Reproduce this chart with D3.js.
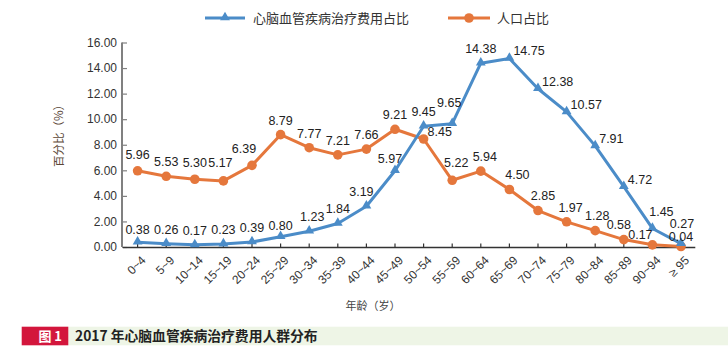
<!DOCTYPE html>
<html>
<head>
<meta charset="utf-8">
<script src="https://cdn.jsdelivr.net/npm/d3@7"></script>
<style>
  html, body { margin: 0; padding: 0; background: #fff; }
  svg { display: block; }
  text { font-family: "Liberation Sans", Arial, "Noto Sans CJK SC", sans-serif; }
  .cjk { font-family: "Noto Sans CJK SC", "Liberation Sans", sans-serif; }
</style>
</head>
<body>
<svg id="chart" width="728" height="356"></svg>
<script>
// ---------- data ----------
const categories = ["0~4","5~9","10~14","15~19","20~24","25~29","30~34","35~39","40~44","45~49",
                    "50~54","55~59","60~64","65~69","70~74","75~79","80~84","85~89","90~94","≥ 95"];
const costShare = [0.38,0.26,0.17,0.23,0.39,0.80,1.23,1.84,3.19,5.97,
                   9.45,9.65,14.38,14.75,12.38,10.57,7.91,4.72,1.45,0.27];
const popShare  = [5.96,5.53,5.30,5.17,6.39,8.79,7.77,7.21,7.66,9.21,
                   8.45,5.22,5.94,4.50,2.85,1.97,1.28,0.58,0.17,0.04];
const yTicks = [0,2,4,6,8,10,12,14,16];
const seriesNames = ["心脑血管疾病治疗费用占比","人口占比"];
const yTitle = "百分比（%）";
const xTitle = "年龄（岁）";
const figLabel = "图 1";
const figCaption = "2017 年心脑血管疾病治疗费用人群分布";

// label placement styles (which labels sit to the right, and nudges [dx, dy] from default)
const blueRight = new Set(["65~69","70~74","75~79","80~84","85~89"]);
const orangeRight = new Set(["50~54"]);
const blueNudge = {"0~4": [0, 2], "25~29": [0, 3], "45~49": [-5, 2], "40~44": [-5, 0],
                   "55~59": [-3, -7], "90~94": [9, -2], "30~34": [3, 0], "≥ 95": [1, -6]};
const orangeNudge = {"0~4": [0, -2], "10~14": [0, -2], "15~19": [-3, -4], "20~24": [-8, -2],
                     "55~59": [4, -3], "60~64": [4, 0], "65~69": [8, 0], "70~74": [5, -1],
                     "75~79": [4, 0], "80~84": [2, -1], "85~89": [-5, -1], "90~94": [-12, 4], "≥ 95": [0, 5]};

// ---------- setup ----------
const BLUE = "#4b8cc8", ORANGE = "#e5773c", TXT = "#333";
const svg = d3.select("#chart");

const x = d3.scaleBand().domain(categories).range([123.3, 695.3]);
const cx = c => x(c) + x.bandwidth() / 2;
const y = d3.scaleLinear().domain([0, 16]).range([247, 42.5]);

// ---------- axes ----------
const yAxis = d3.axisRight(y).tickValues(yTicks).tickSize(5).tickFormat("");
const gy = svg.append("g").attr("transform", "translate(122,0)").call(yAxis);
gy.select(".domain").attr("stroke", "#808080").attr("stroke-width", 2).attr("d", `M0,${y(16)}V${y(0)}`);
gy.selectAll(".tick line").attr("stroke", "#808080").attr("stroke-width", 1.2);

svg.append("g").selectAll("text").data(yTicks).join("text")
  .attr("x", 117).attr("y", d => y(d)).attr("dy", "0.35em")
  .attr("text-anchor", "end").attr("font-size", 12).attr("fill", TXT)
  .text(d => d.toFixed(2));

const xAxis = d3.axisTop(x).tickSize(4).tickFormat("");
const gx = svg.append("g").attr("transform", `translate(0,${y(0) + 0.5})`).call(xAxis);
gx.select(".domain").attr("stroke", "#333").attr("stroke-width", 1.3).attr("d", "M123,0H695.3");
gx.selectAll(".tick line").attr("stroke", "#333").attr("stroke-width", 1.2);

svg.append("g").selectAll("text").data(categories).join("text")
  .attr("transform", c => `translate(${cx(c) + 3},${y(0) + 8}) rotate(-45)`)
  .attr("text-anchor", "end").attr("dy", "0.7em")
  .attr("font-size", 12).attr("fill", TXT)
  .text(c => c);

// titles
svg.append("text").attr("class", "cjk")
  .attr("transform", "translate(63,133) rotate(-90)")
  .attr("text-anchor", "middle").attr("font-size", 11.5).attr("fill", "#5a4636")
  .text(yTitle);
svg.append("text").attr("class", "cjk")
  .attr("x", 373).attr("y", 310).attr("text-anchor", "middle")
  .attr("font-size", 11).attr("fill", "#444").text(xTitle);

// ---------- lines ----------
const lineGen = d3.line().x((d, i) => cx(categories[i])).y(d => y(d));
svg.append("path").datum(popShare).attr("d", lineGen)
  .attr("fill", "none").attr("stroke", ORANGE).attr("stroke-width", 3).attr("stroke-linejoin", "round");
svg.append("path").datum(costShare).attr("d", lineGen)
  .attr("fill", "none").attr("stroke", BLUE).attr("stroke-width", 3).attr("stroke-linejoin", "round");

svg.append("g").selectAll("circle").data(popShare).join("circle")
  .attr("cx", (d, i) => cx(categories[i])).attr("cy", d => y(d)).attr("r", 4.8).attr("fill", ORANGE);

const tri = d3.symbol().type(d3.symbolTriangle).size(42);
svg.append("g").selectAll("path").data(costShare).join("path")
  .attr("d", tri).attr("fill", BLUE)
  .attr("transform", (d, i) => `translate(${cx(categories[i])},${y(d) - 0.5})`);

// ---------- data labels ----------
function labels(values, rightSet, nudge) {
  svg.append("g").selectAll("text").data(values).join("text")
    .attr("font-size", 12.5).attr("fill", "#222")
    .each(function (d, i) {
      const c = categories[i];
      const px = cx(c), py = y(d);
      const [ndx, ndy] = nudge[c] || [0, 0];
      const t = d3.select(this);
      if (rightSet.has(c)) {
        t.attr("x", px + 4 + ndx).attr("y", py - 3 + ndy).attr("text-anchor", "start");
      } else {
        t.attr("x", px + ndx).attr("y", py - 10 + ndy).attr("text-anchor", "middle");
      }
    })
    .text(d => d.toFixed(2));
}
labels(popShare, orangeRight, orangeNudge);
labels(costShare, blueRight, blueNudge);

// ---------- legend ----------
const legend = [
  {name: seriesNames[0], color: BLUE, x0: 205, x1: 245, tx: 253, mark: "tri"},
  {name: seriesNames[1], color: ORANGE, x0: 448, x1: 490, tx: 497, mark: "circ"}
];
const lg = svg.append("g");
legend.forEach(l => {
  lg.append("line").attr("x1", l.x0).attr("x2", l.x1).attr("y1", 18).attr("y2", 18)
    .attr("stroke", l.color).attr("stroke-width", 3);
  if (l.mark === "tri") {
    lg.append("path").attr("d", tri).attr("fill", l.color)
      .attr("transform", `translate(${(l.x0 + l.x1) / 2},17.5)`);
  } else {
    lg.append("circle").attr("cx", (l.x0 + l.x1) / 2).attr("cy", 18).attr("r", 4.8).attr("fill", l.color);
  }
  lg.append("text").attr("class", "cjk").attr("x", l.tx).attr("y", 18).attr("dy", "0.36em")
    .attr("font-size", 13).attr("fill", TXT).text(l.name);
});

// ---------- caption bar ----------
svg.append("rect").attr("x", 68.3).attr("y", 326.7).attr("width", 659.7).attr("height", 18.6).attr("fill", "#eef5e6");
svg.append("rect").attr("x", 21.7).attr("y", 326.7).attr("width", 46.6).attr("height", 18.6).attr("fill", "#d3163c");
svg.append("text").attr("class", "cjk").attr("x", 62).attr("y", 341).attr("text-anchor", "end")
  .attr("font-size", 13).attr("font-weight", "bold").attr("fill", "#fff").text(figLabel);
svg.append("text").attr("class", "cjk").attr("x", 75).attr("y", 341)
  .attr("font-size", 13.8).attr("font-weight", "bold").attr("fill", "#222").text(figCaption);
</script>
</body>
</html>
